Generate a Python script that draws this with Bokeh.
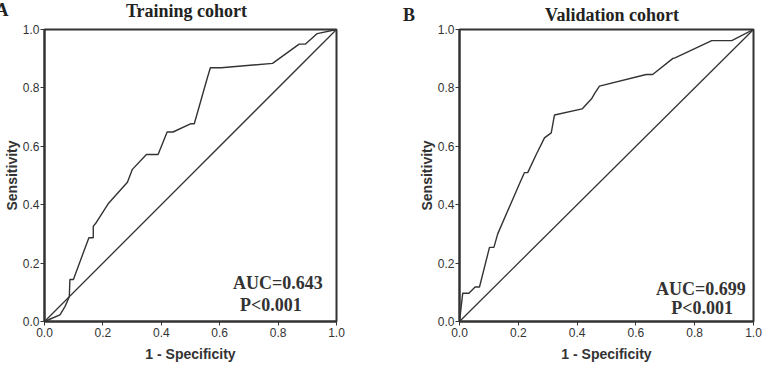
from bokeh.plotting import figure
from bokeh.layouts import row
from bokeh.models import Range1d, FixedTicker, PrintfTickFormatter, Label
from bokeh.embed import file_html
from bokeh.resources import INLINE

# ROC curve of the training cohort (1 - specificity, sensitivity)
train_fpr = [0.0, 0.014, 0.053, 0.070, 0.085, 0.087, 0.099, 0.152, 0.167, 0.167,
             0.178, 0.218, 0.284, 0.301, 0.349, 0.389, 0.420, 0.440, 0.500, 0.513,
             0.557, 0.568, 0.605, 0.781, 0.872, 0.894, 0.934, 1.0]
train_tpr = [0.0, 0.006, 0.023, 0.051, 0.085, 0.144, 0.144, 0.287, 0.287, 0.326,
             0.340, 0.403, 0.477, 0.521, 0.572, 0.572, 0.649, 0.649, 0.677, 0.677,
             0.832, 0.869, 0.869, 0.884, 0.950, 0.950, 0.986, 1.0]

# ROC curve of the validation cohort
valid_fpr = [0.0, 0.011, 0.032, 0.053, 0.068, 0.102, 0.117, 0.130, 0.204, 0.221,
             0.232, 0.261, 0.289, 0.312, 0.323, 0.417, 0.450, 0.461, 0.476, 0.635,
             0.657, 0.726, 0.733, 0.858, 0.926, 1.0]
valid_tpr = [0.0, 0.097, 0.097, 0.118, 0.118, 0.254, 0.254, 0.300, 0.472, 0.510,
             0.510, 0.572, 0.629, 0.646, 0.707, 0.728, 0.764, 0.783, 0.806, 0.846,
             0.846, 0.901, 0.903, 0.962, 0.962, 1.0]

ref_line = [0.0, 1.0]
ticks = [0.0, 0.2, 0.4, 0.6, 0.8, 1.0]

# letter_xy / title_xy: canvas pixels from each panel's top-left corner;
# letter_side: the border panel that has spare room for the letter label
panels = [
    dict(letter="A", title="Training cohort", auc="AUC=0.643", p="P<0.001",
         fpr=train_fpr, tpr=train_tpr,
         borders=(43, 51, 29, 44), size=(387, 366),
         letter_xy=(-5, 9), letter_side="right", title_xy=(186, 10),
         auc_xy=(0.799, 0.132), p_xy=(0.775, 0.056)),
    dict(letter="B", title="Validation cohort", auc="AUC=0.699", p="P<0.001",
         fpr=valid_fpr, tpr=valid_tpr,
         borders=(72, 21, 28, 45), size=(387, 366),
         letter_xy=(15.5, 14), letter_side="left", title_xy=(224.5, 14),
         auc_xy=(0.821, 0.112), p_xy=(0.825, 0.045)),
]

INK = "#333333"
SERIF = "Liberation Serif"
SANS = "Liberation Sans"


def make_panel(cfg):
    left, right, top, bottom = cfg["borders"]
    w, h = cfg["size"]
    p = figure(width=w, height=h, output_backend="svg", toolbar_location=None,
               x_range=Range1d(0, 1), y_range=Range1d(0, 1),
               min_border_left=left, min_border_right=right,
               min_border_top=top, min_border_bottom=bottom,
               background_fill_color="white", border_fill_color="white")
    p.grid.visible = False
    p.outline_line_color = INK
    p.outline_line_width = 2

    for ax in (p.xaxis[0], p.yaxis[0]):
        ax.ticker = FixedTicker(ticks=ticks)
        ax.formatter = PrintfTickFormatter(format="%.1f")
        ax.axis_line_color = INK
        ax.axis_line_width = 2
        ax.major_tick_line_color = INK
        ax.major_tick_line_width = 1
        ax.major_tick_out = 4
        ax.major_tick_in = 0
        ax.minor_tick_line_color = None
        ax.major_label_text_font = SANS
        ax.major_label_text_font_size = "12px"
        ax.major_label_text_color = INK
        ax.major_label_standoff = 1
        ax.axis_label_text_font = SANS
        ax.axis_label_text_font_size = "14px"
        ax.axis_label_text_font_style = "bold"
        ax.axis_label_text_color = INK
        ax.axis_label_standoff = 0

    p.xaxis.axis_label = "1 - Specificity"
    p.yaxis.axis_label = "Sensitivity"
    p.xaxis[0].major_label_standoff = 2
    p.xaxis[0].axis_label_standoff = 6

    p.line(ref_line, ref_line, line_color=INK, line_width=1.3)
    p.line(cfg["fpr"], cfg["tpr"], line_color=INK, line_width=1.4)

    tx, ty = cfg["title_xy"]
    p.add_layout(Label(x=tx, y=ty, x_units="canvas", y_units="canvas",
                       text=cfg["title"], text_font=SERIF,
                       text_font_size="18px", text_font_style="bold",
                       text_color="#222222", text_align="center",
                       text_baseline="alphabetic"), "above")

    lx, ly = cfg["letter_xy"]
    p.add_layout(Label(x=lx, y=ly, x_units="canvas", y_units="canvas",
                       text=cfg["letter"], text_font=SERIF,
                       text_font_size="18px", text_font_style="bold",
                       text_color="#222222", text_baseline="alphabetic"),
                 cfg["letter_side"])

    ax_, ay_ = cfg["auc_xy"]
    p.add_layout(Label(x=ax_, y=ay_, text=cfg["auc"], text_font=SERIF,
                       text_font_size="18px", text_font_style="bold",
                       text_color="#333333", text_align="center",
                       text_baseline="alphabetic"))
    px_, py_ = cfg["p_xy"]
    p.add_layout(Label(x=px_, y=py_, text=cfg["p"], text_font=SERIF,
                       text_font_size="18px", text_font_style="bold",
                       text_color="#333333", text_align="center",
                       text_baseline="alphabetic"))
    return p


layout = row(*[make_panel(c) for c in panels], spacing=0)

open("out.html", "w").write(file_html(layout, INLINE))
